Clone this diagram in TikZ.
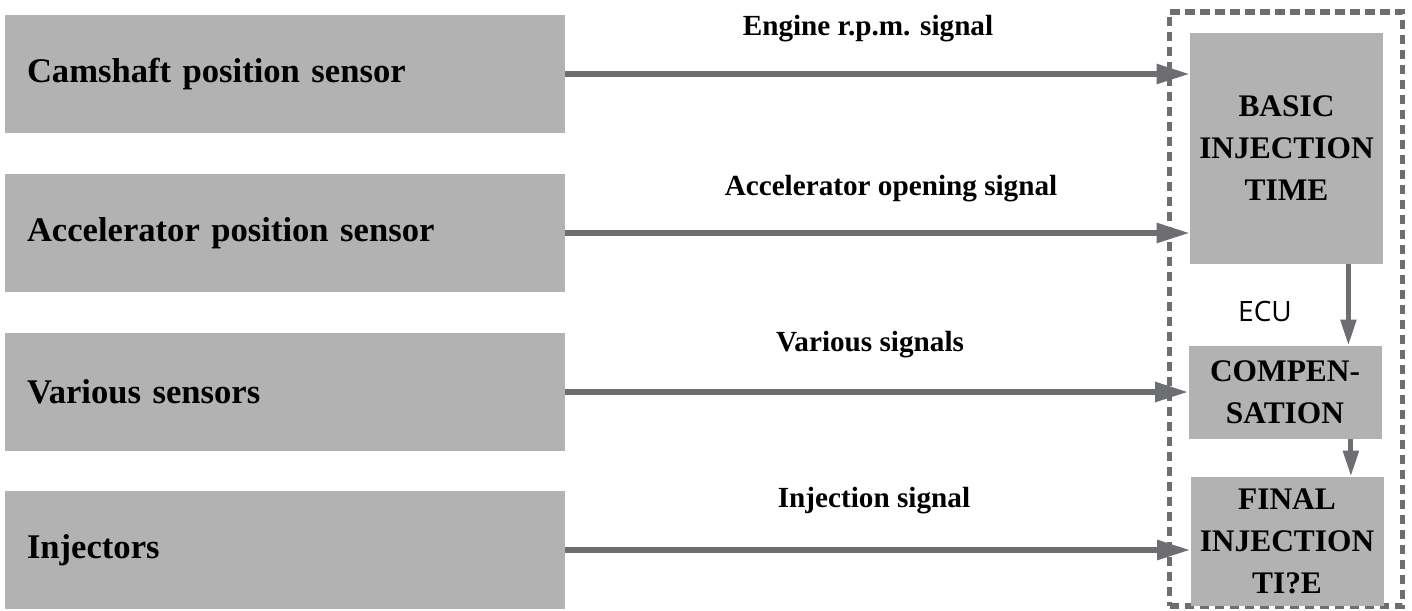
\documentclass[tikz,border=0pt]{standalone}
\usepackage{fontspec}
\setmainfont{Liberation Serif}
\newfontfamily\ecufont{Open Sans}
\usetikzlibrary{arrows.meta}
\definecolor{boxgray}{RGB}{178,178,178}
\definecolor{linegray}{RGB}{109,110,113}

\begin{document}
\begin{tikzpicture}[x=0.5pt, y=-0.5pt,
  sensor/.style={fill=boxgray, minimum height=59pt, text width=258pt, inner xsep=11pt, align=left, font=\fontsize{17.3}{20}\selectfont\bfseries},
  ecustep/.style={fill=boxgray, text width=92pt, inner xsep=2.25pt, align=center, font=\fontsize{15.7}{21}\selectfont\bfseries},
  signal/.style={font=\fontsize{14.6}{17}\selectfont\bfseries},
  ecuframe/.style={draw=linegray, line width=2.9pt, dash pattern=on 4.6pt off 2.9pt},
  arr/.style={draw=linegray, line width=2.8pt, -{Triangle[length=16.5pt, width=9.5pt]}},
  arrdown/.style={draw=linegray, line width=2.5pt, -{Triangle[length=13pt, width=7.5pt]}}]
\useasboundingbox (0,0) rectangle (1412,610);
\node[ecuframe, minimum width=116.5pt, minimum height=297pt] (ecu) at (1286,309) {};
\node[font=\ecufont\fontsize{14}{17}\selectfont] (ecutext) at (1265,311) {ECU};

\node[sensor] (cam) at (285,74) {Camshaft position sensor};
\node[sensor] (acc) at (285,233) {Accelerator position sensor};
\node[sensor] (var) at (285,392) {Various sensors};
\node[sensor] (inj) at (285,550) {Injectors};

\node[ecustep, minimum height=115.5pt] (basic) at (1286.5,148.5) {BASIC\\INJECTION\\TIME};
\node[ecustep, minimum height=46.5pt] (comp) at (1285,392.5) {COMPEN-\\SATION};
\node[ecustep, minimum height=64.5pt] (final) at (1287,541.5) {FINAL\\INJECTION\\TI?E};

\node[signal] (rpm) at (868,29) {Engine r.p.m. signal};
\node[signal] (opening) at (891,189) {Accelerator opening signal};
\node[signal] (various) at (870,345) {Various signals};
\node[signal] (injsig) at (874,501) {Injection signal};

\draw[arr] (cam.east) -- (cam.east -| basic.west);
\draw[arr] (acc.east) -- (acc.east -| basic.west);
\draw[arr] (var.east) -- (var.east -| comp.west);
\draw[arr] (inj.east) -- (inj.east -| final.west);

\coordinate (basicout) at ([xshift=-17.5pt]basic.south east);
\coordinate (compout) at ([xshift=-15.5pt]comp.south east);
\draw[arrdown] (basicout) -- (basicout |- comp.north);
\draw[arrdown] (compout) -- (compout |- final.north);
\end{tikzpicture}
\end{document}
